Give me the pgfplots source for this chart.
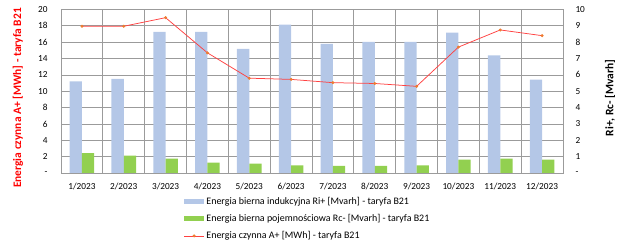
\documentclass[border=0pt]{standalone}
\usepackage{pgfplots}
\pgfplotsset{compat=1.18}
\usepackage{fontspec}
\setmainfont{Carlito}
\definecolor{blueb}{RGB}{180,199,231}
\definecolor{greenb}{RGB}{146,208,80}
\definecolor{gridc}{RGB}{155,155,155}
\definecolor{linered}{RGB}{255,65,65}
\definecolor{markor}{RGB}{237,125,49}
\pgfplotsset{
  barlegend/.style={legend image code/.code={\fill[##1] (0bp,-2.6bp) rectangle (20bp,2.6bp);}},
  linelegend/.style={legend image code/.code={\draw[mark repeat=2,mark phase=2,##1] plot coordinates {(0bp,0bp) (10bp,0bp) (20bp,0bp)};}},
}
\begin{document}
\begin{tikzpicture}
\useasboundingbox (-61bp,-77bp) rectangle (567bp,173bp);
% bars on the right axis
\begin{axis}[
  at={(0,0)}, anchor=south west, scale only axis,
  width=502bp, height=163.5bp,
  xmin=-0.5, xmax=11.5, ymin=0, ymax=10,
  ybar=0pt, bar width=12.3bp,
  xtick={0,...,11},
  xticklabels={1/2023,2/2023,3/2023,4/2023,5/2023,6/2023,7/2023,8/2023,9/2023,10/2023,11/2023,12/2023},
  minor xtick={-0.5,0.5,...,11.5},
  xminorgrids=true, xmajorgrids=false, ymajorgrids=true,
  ytick={0,...,10},
  yticklabels={-,1,2,3,4,5,6,7,8,9,10},
  yticklabel pos=right,
  major tick length=0pt, minor tick length=0pt,
  tick style={draw=none},
  grid style={draw=gridc, line width=0.7bp},
  minor grid style={draw=gridc, line width=0.7bp},
  axis line style={draw=gridc, line width=0.7bp},
  tick label style={font=\fontsize{9.3}{11}\selectfont},
  xticklabel style={yshift=-7bp},
  yticklabel style={xshift=9bp},
  every axis y label/.style={at={([xshift=47bp]rel axis cs:1,0.459)}, anchor=center, rotate=90, font=\fontsize{11.5}{13}\selectfont\bfseries},
  ylabel={Ri+, Rc- [Mvarh]},
]
\addplot[fill=blueb, draw=none] coordinates {(0,5.61) (1,5.76) (2,8.63) (3,8.63) (4,7.59) (5,9.08) (6,7.90) (7,8.02) (8,8.02) (9,8.59) (10,7.20) (11,5.71)};
\addplot[fill=greenb, draw=none] coordinates {(0,1.22) (1,1.06) (2,0.88) (3,0.63) (4,0.57) (5,0.47) (6,0.43) (7,0.43) (8,0.47) (9,0.82) (10,0.88) (11,0.82)};
\end{axis}
% line on the left axis
\begin{axis}[
  at={(0,0)}, anchor=south west, scale only axis,
  width=502bp, height=163.5bp,
  xmin=-0.5, xmax=11.5, ymin=0, ymax=20,
  hide x axis, axis y line*=left,
  ytick={0,2,...,20},
  yticklabels={-,2,4,6,8,10,12,14,16,18,20},
  major tick length=0pt, tick style={draw=none},
  axis line style={draw=gridc, line width=0.7bp},
  tick label style={font=\fontsize{9.3}{11}\selectfont},
  yticklabel style={xshift=-10bp},
  every axis y label/.style={at={([xshift=-43bp]rel axis cs:0,0.459)}, anchor=center, rotate=90, font=\fontsize{11.5}{13}\selectfont\bfseries, text=red},
  ylabel={Energia czynna A+ [MWh] - taryfa B21},
  legend style={at={(0.5,0)}, anchor=north, yshift=-20bp, xshift=-4.5bp, draw=none, fill=none,
    font=\fontsize{10}{12}\selectfont, cells={anchor=west}, row sep=4.5bp},
  legend cell align=left,
]
\addlegendimage{fill=blueb, draw=none, barlegend}
\addlegendentry{Energia bierna indukcyjna Ri+ [Mvarh] - taryfa B21}
\addlegendimage{fill=greenb, draw=none, barlegend}
\addlegendentry{Energia bierna pojemnościowa Rc- [Mvarh] - taryfa B21}
\addplot[draw=linered, line width=0.75bp, mark=*, mark size=1.1bp, mark options={draw=markor, fill=markor}, linelegend]
  coordinates {(0,17.95) (1,17.95) (2,19.0) (3,14.7) (4,11.6) (5,11.45) (6,11.05) (7,10.95) (8,10.6) (9,15.4) (10,17.5) (11,16.8)};
\addlegendentry{Energia czynna A+ [MWh] - taryfa B21}
\end{axis}
\end{tikzpicture}
\end{document}
